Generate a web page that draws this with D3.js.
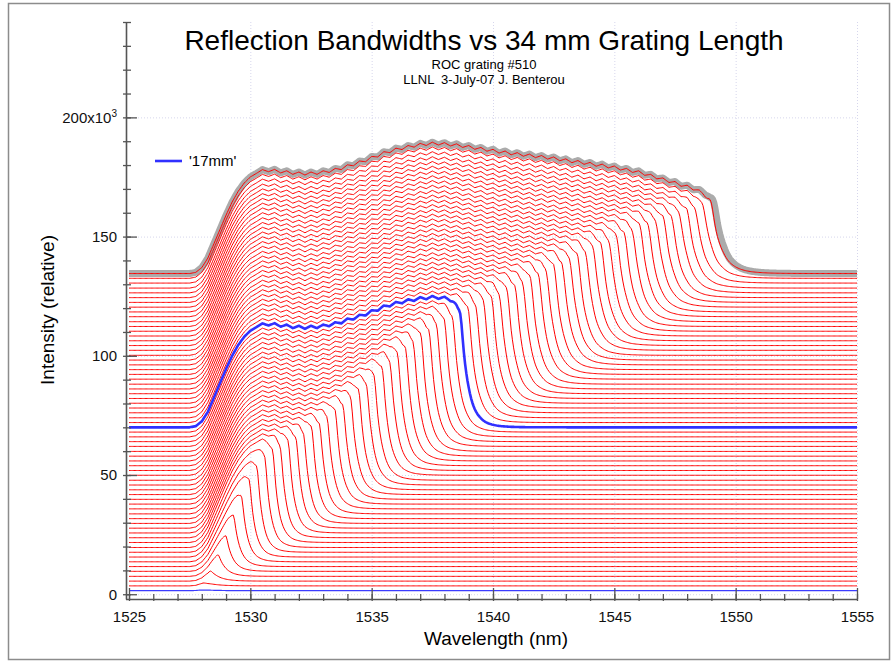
<!DOCTYPE html>
<html>
<head>
<meta charset="utf-8">
<script src="https://cdn.jsdelivr.net/npm/d3@7"></script>
<style>
  body { margin: 0; background: #fff; }
  svg { display: block; font-family: "Liberation Sans", Arial, sans-serif; }
</style>
</head>
<body>
<div id="chart"></div>
<script>
const title = `Reflection Bandwidths vs 34 mm Grating Length`
const subtitle = [`ROC grating #510`, `LLNL  3-July-07 J. Benterou`]
const xLabel = `Wavelength (nm)`
const yLabel = `Intensity (relative)`
const legendLabel = `'17mm'`

// ticks
const xMajorTicks = [1525, 1530, 1535, 1540, 1545, 1550, 1555]
const xMinorTicks = [1525, 1526, 1527, 1528, 1529, 1530, 1531, 1532, 1533, 1534, 1535, 1536, 1537, 1538, 1539, 1540,
    1541, 1542, 1543, 1544, 1545, 1546, 1547, 1548, 1549, 1550, 1551, 1552, 1553, 1554, 1555]
const yMajorTicks = [0, 50, 100, 150, 200]
const yMinorTicks = [0, 10, 20, 30, 40, 50, 60, 70, 80, 90, 100, 110, 120, 130, 140, 150, 160, 170, 180, 190, 200, 210, 220, 230, 240]

// reflected spectrum of a saturated grating, relative to baseline [nm, x10^3]
const envelope = [
    [1527.5, 0], [1527.75, 0.5], [1528, 2.5], [1528.25, 6.5], [1528.5, 12.5], [1528.75, 18.5], [1529, 24.5], [1529.25, 30],
    [1529.5, 34.5], [1529.75, 38], [1530, 40.5], [1530.25, 42], [1530.5, 43.6], [1530.75, 42.7], [1531, 43.7], [1531.25, 42.2],
    [1531.5, 43.1], [1531.75, 41.6], [1532, 42.6], [1532.25, 41.3], [1532.5, 42.6], [1532.75, 41.6], [1533, 43.1], [1533.25, 42.4],
    [1533.5, 44.1], [1533.75, 43.6], [1534, 45.6], [1534.25, 45.2], [1534.5, 47.2], [1534.75, 46.9], [1535, 49.1], [1535.25, 48.9],
    [1535.5, 51.1], [1535.75, 50.7], [1536, 52.6], [1536.25, 52.0], [1536.5, 53.7], [1536.75, 53.0], [1537, 54.6], [1537.25, 53.7],
    [1537.5, 55.1], [1537.75, 53.9], [1538, 54.9], [1538.25, 53.5], [1538.5, 54.4], [1538.75, 52.9], [1539, 53.7], [1539.25, 52.1],
    [1539.5, 52.9], [1539.75, 51.3], [1540, 52.1], [1540.25, 50.5], [1540.5, 51.4], [1540.75, 49.8], [1541, 50.7], [1541.25, 49.2],
    [1541.5, 50.1], [1541.75, 48.6], [1542, 49.5], [1542.25, 48.0], [1542.5, 48.9], [1542.75, 47.3], [1543, 48.1], [1543.25, 46.5],
    [1543.5, 47.4], [1543.75, 45.8], [1544, 46.6], [1544.25, 45.0], [1544.5, 45.9], [1544.75, 44.3], [1545, 45.1], [1545.25, 43.4],
    [1545.5, 44.1], [1545.75, 42.4], [1546, 43.1], [1546.25, 41.2], [1546.5, 41.6], [1546.75, 39.7], [1547, 40.1], [1547.25, 38.2],
    [1547.5, 38.6], [1547.75, 36.6], [1548, 37.1], [1548.25, 35.2], [1548.5, 35.6], [1548.75, 33.9], [1549, 34.6], [1549.25, 32.9],
    [1549.5, 33.6], [1549.75, 32.2], [1550, 32.5], [1550.25, 32.3], [1550.5, 32.1], [1550.75, 32.0], [1551, 32.0]
]

// one trace per grating length
const lengthsMm = [0, 0.5, 1, 1.5, 2, 2.5, 3, 3.5, 4, 4.5, 5, 5.5, 6, 6.5, 7, 7.5, 8, 8.5, 9, 9.5, 10, 10.5, 11, 11.5, 12, 12.5,
    13, 13.5, 14, 14.5, 15, 15.5, 16, 16.5, 17, 17.5, 18, 18.5, 19, 19.5, 20, 20.5, 21, 21.5, 22, 22.5, 23, 23.5, 24, 24.5,
    25, 25.5, 26, 26.5, 27, 27.5, 28, 28.5, 29, 29.5, 30, 30.5, 31, 31.5, 32, 32.5, 33]
const baselineK = [1.5, 3.5, 5.5, 7.5, 9.6, 11.6, 13.6, 15.6, 17.6, 19.6, 21.7, 23.7, 25.7, 27.7, 29.7, 31.7, 33.7, 35.8,
    37.8, 39.8, 41.8, 43.8, 45.8, 47.8, 49.9, 51.9, 53.9, 55.9, 57.9, 59.9, 62.0, 64.0, 66.0, 68.0, 70.0, 72.0, 74.0, 76.1,
    78.1, 80.1, 82.1, 84.1, 86.1, 88.1, 90.2, 92.2, 94.2, 96.2, 98.2, 100.2, 102.3, 104.3, 106.3, 108.3, 110.3, 112.3, 114.3,
    116.4, 118.4, 120.4, 122.4, 124.4, 126.4, 128.4, 130.5, 132.5, 134.5]
const edgeNm = [1528.0, 1528.10, 1528.42, 1528.75, 1529.07, 1529.39, 1529.72, 1530.04, 1530.36, 1530.69, 1531.01, 1531.33,
    1531.66, 1531.98, 1532.30, 1532.63, 1532.95, 1533.27, 1533.60, 1533.92, 1534.24, 1534.57, 1534.89, 1535.21, 1535.54,
    1535.86, 1536.18, 1536.51, 1536.83, 1537.15, 1537.48, 1537.80, 1538.12, 1538.45, 1538.77, 1539.10, 1539.42, 1539.74,
    1540.07, 1540.39, 1540.71, 1541.04, 1541.36, 1541.68, 1542.01, 1542.33, 1542.65, 1542.98, 1543.30, 1543.62, 1543.95,
    1544.27, 1544.59, 1544.92, 1545.24, 1545.56, 1545.89, 1546.21, 1546.53, 1546.86, 1547.18, 1547.50, 1547.83, 1548.15,
    1548.47, 1548.80, 1549.12]
const reflectScale = [0.15, 0.45, 0.55, 0.62, 0.7, 0.78, 0.85, 0.91, 0.95, 0.98, 1, 1, 1, 1, 1, 1, 1, 1, 1, 1, 1, 1, 1, 1,
    1, 1, 1, 1, 1, 1, 1, 1, 1, 1, 1, 1, 1, 1, 1, 1, 1, 1, 1, 1, 1, 1, 1, 1, 1, 1, 1, 1, 1, 1, 1, 1, 1, 1, 1, 1, 1, 1, 1, 1, 1, 1, 1]
const highlightMm = 17

const width = 893, height = 662
const svg = d3.select(`#chart`).append(`svg`).attr(`width`, width).attr(`height`, height)

const x = d3.scaleLinear().domain([1525, 1555]).range([129, 857])
const y = d3.scaleLinear().domain([-2, 240]).range([599, 22])
const env = d3.scaleLinear().domain(envelope.map(d => d[0])).range(envelope.map(d => d[1])).clamp(true)
// the long-wavelength edge gets softer for the longer gratings
const edgeSoftness = d3.scaleLinear().domain([1530, 1549]).range([0.55, 1]).clamp(true)

// frame
svg.append(`rect`).attr(`x`, 8.5).attr(`y`, 3.5).attr(`width`, 881).attr(`height`, 656)
    .attr(`fill`, `none`).attr(`stroke`, `#8c8c8c`).attr(`stroke-width`, 1.5)

// grid
const grid = svg.append(`g`).attr(`stroke`, `#d6d6ec`).attr(`stroke-dasharray`, `1,2`).attr(`stroke-width`, 1)
grid.selectAll(`.h`).data(yMajorTicks).join(`line`)
    .attr(`x1`, x(1525)).attr(`x2`, x(1555)).attr(`y1`, d => y(d) + 0.5).attr(`y2`, d => y(d) + 0.5)
grid.selectAll(`.v`).data(xMajorTicks.slice(1)).join(`line`)
    .attr(`x1`, d => x(d) + 0.5).attr(`x2`, d => x(d) + 0.5).attr(`y1`, y(240)).attr(`y2`, y(-2))

// traces
const grid_nm = d3.range(1525, 1555.001, 0.05)

function edgeFactor(w, edge) {
    const s = edgeSoftness(edge)
    const t = (w - edge) / s
    const f = t < 0
        ? 1 - 0.35 * Math.exp(t / 0.2)
        : 0.65 * (0.75 * Math.exp(-t / 0.35) + 0.25 * Math.exp(-t / 0.7))
    return f + 0.05 * Math.exp(-(((t + 0.15) / 0.1) ** 2))
}

function trace(i, edgeShift = 0) {
    return grid_nm.map(w => [w, baselineK[i] + reflectScale[i] * env(w) * edgeFactor(w, edgeNm[i] + edgeShift)])
}

const line = d3.line().x(d => x(d[0])).y(d => y(d[1]))
const last = lengthsMm.length - 1
const plot = svg.append(`g`).attr(`fill`, `none`)

plot.append(`path`).attr(`d`, line(trace(last, 0.12)))
    .attr(`stroke`, `#ababab`).attr(`stroke-width`, 7).attr(`stroke-linejoin`, `round`)

const reds = d3.range(1, lengthsMm.length).filter(i => lengthsMm[i] !== highlightMm)
plot.selectAll(`.red`).data(reds).join(`path`)
    .attr(`d`, i => line(trace(i)))
    .attr(`stroke`, `#ff0000`).attr(`stroke-width`, 1)

plot.append(`path`).attr(`d`, line(trace(0)))
    .attr(`stroke`, `#3c3cff`).attr(`stroke-width`, 1.2)

const hi = lengthsMm.indexOf(highlightMm)
plot.append(`path`).attr(`d`, line(trace(hi)))
    .attr(`stroke`, `#3030ff`).attr(`stroke-width`, 2.6).attr(`stroke-linejoin`, `round`)

// axes
const axisColor = `#555`
const xMinor = svg.append(`g`).attr(`transform`, `translate(0,601)`)
    .call(d3.axisBottom(x).tickValues(xMinorTicks).tickSize(-7).tickFormat(``))
const xMajor = svg.append(`g`).attr(`transform`, `translate(0,599)`)
    .call(d3.axisBottom(x).tickValues(xMajorTicks).tickSizeInner(-11).tickSizeOuter(0).tickPadding(12).tickFormat(d3.format(`d`)))
const yMinor = svg.append(`g`).attr(`transform`, `translate(123,0)`)
    .call(d3.axisLeft(y).tickValues(yMinorTicks).tickSize(-8).tickFormat(``))
const yMajor = svg.append(`g`).attr(`transform`, `translate(126,0)`)
    .call(d3.axisLeft(y).tickValues(yMajorTicks).tickSizeInner(-11).tickSizeOuter(0).tickPadding(9).tickFormat(d => d))

xMinor.select(`.domain`).remove()
yMinor.select(`.domain`).remove()
for (const g of [xMinor, xMajor, yMinor, yMajor]) {
    g.selectAll(`line`).attr(`stroke`, axisColor).attr(`stroke-width`, 1.3)
    g.select(`.domain`).attr(`stroke`, axisColor).attr(`stroke-width`, 1.6)
    g.selectAll(`text`).attr(`fill`, `#111`).style(`font-size`, `15px`).style(`font-family`, `"Liberation Sans", Arial, sans-serif`)
}
xMajor.select(`.domain`).attr(`d`, `M126,0.5H${x(1555)}`)

yMajor.selectAll(`.tick text`).filter(d => d === 200).each(function () {
    const t = d3.select(this).text(`200x10`)
    t.append(`tspan`).attr(`dy`, `-0.55em`).style(`font-size`, `10px`).text(`3`)
})

// titles
svg.append(`text`).attr(`x`, 484).attr(`y`, 50).attr(`text-anchor`, `middle`)
    .style(`font-size`, `28px`).attr(`fill`, `#000`).text(title)
svg.selectAll(`.sub`).data(subtitle).join(`text`)
    .attr(`x`, 484).attr(`y`, (d, i) => 69 + i * 15).attr(`text-anchor`, `middle`)
    .style(`font-size`, `13px`).style(`white-space`, `pre`).attr(`fill`, `#000`).text(d => d)

svg.append(`text`).attr(`x`, 496).attr(`y`, 645).attr(`text-anchor`, `middle`)
    .style(`font-size`, `19px`).attr(`fill`, `#000`).text(xLabel)
svg.append(`text`).attr(`transform`, `translate(54,310) rotate(-90)`).attr(`text-anchor`, `middle`)
    .style(`font-size`, `19px`).attr(`fill`, `#000`).text(yLabel)

// legend
svg.append(`line`).attr(`x1`, 155).attr(`x2`, 182).attr(`y1`, 161).attr(`y2`, 161)
    .attr(`stroke`, `#3030ff`).attr(`stroke-width`, 2.6)
svg.append(`text`).attr(`x`, 189).attr(`y`, 161).attr(`dy`, `0.35em`)
    .style(`font-size`, `15px`).attr(`fill`, `#000`).text(legendLabel)
</script>
</body>
</html>
